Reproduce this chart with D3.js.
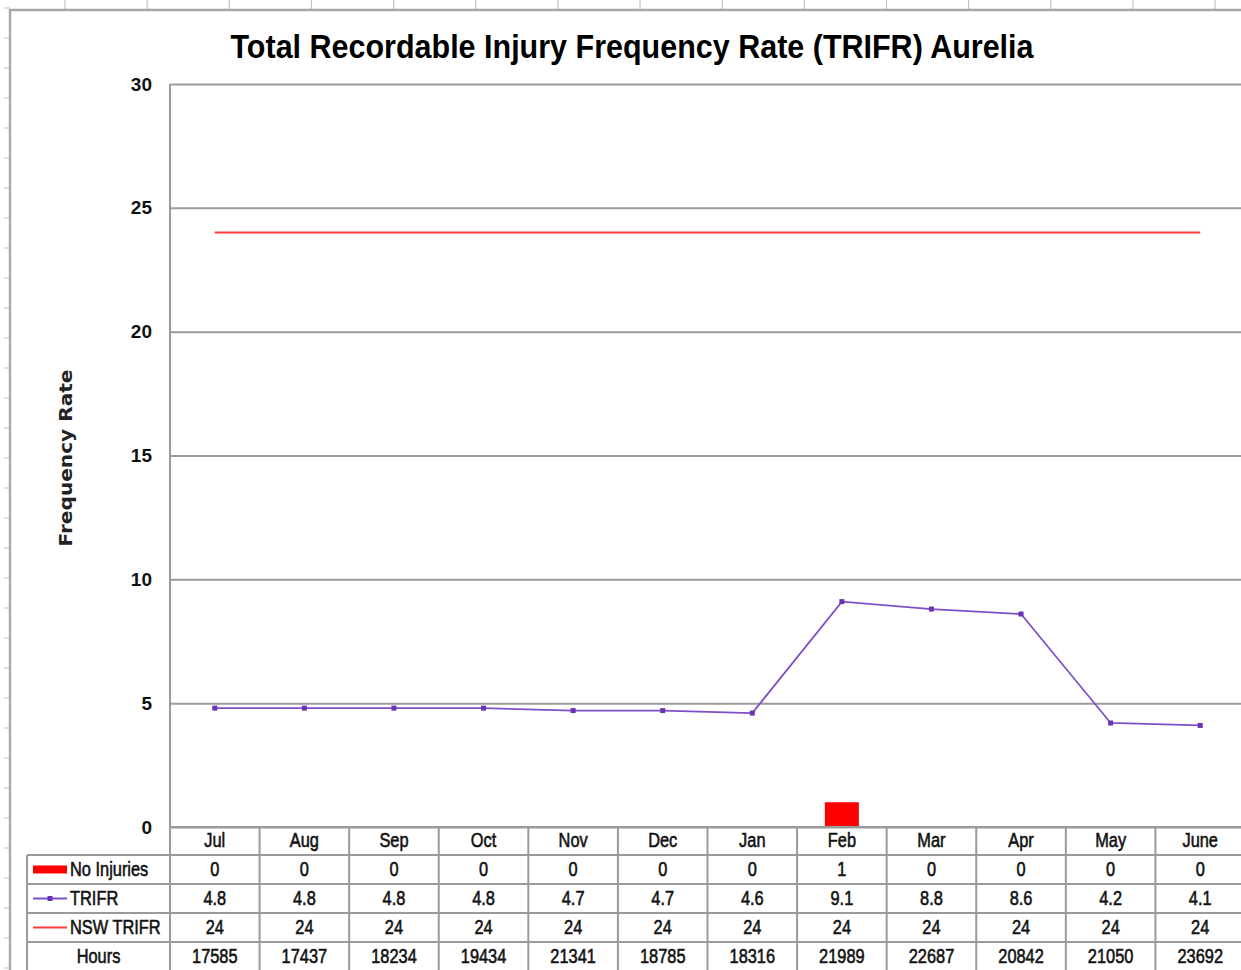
<!DOCTYPE html>
<html><head><meta charset="utf-8">
<script src="https://cdn.jsdelivr.net/npm/d3@7"></script>
<style>body{margin:0;background:#fff}svg{display:block}</style>
</head><body>
<svg id="c" width="1241" height="970"></svg>
<script>
// ---- data ----
const months = ["Jul","Aug","Sep","Oct","Nov","Dec","Jan","Feb","Mar","Apr","May","June"];
const noInjuries = [0,0,0,0,0,0,0,1,0,0,0,0];
const trifr = [4.8,4.8,4.8,4.8,4.7,4.7,4.6,9.1,8.8,8.6,4.2,4.1];
const nswTrifr = [24,24,24,24,24,24,24,24,24,24,24,24];
const hours = [17585,17437,18234,19434,21341,18785,18316,21989,22687,20842,21050,23692];
const yTicks = [0,5,10,15,20,25,30];
const rowLabels = ["No Injuries","TRIFR","NSW TRIFR","Hours"];
const titleText = "Total Recordable Injury Frequency Rate (TRIFR) Aurelia";
const yLabel = "Frequency Rate";

// ---- layout ----
const svg = d3.select("#c");
const W = 1241, H = 970;
const plotL = 170, plotR = 1245, plotT = 84, plotB = 827;
const tableL = 27, headerB = 855, tableB = 971;
const grid = "#9a9a9a";
const SQ = 0.78;

const x = d3.scaleBand().domain(months).range([plotL, plotR]);
const y = d3.scaleLinear().domain([0, 30]).range([plotB, plotT]);
const row = d3.scaleBand().domain(rowLabels).range([headerB, tableB]);
const cx = m => x(m) + x.bandwidth() / 2;

// ---- spreadsheet background ----
const bg = svg.append("g");
d3.range(65, W, 82.15).forEach(px => {
  bg.append("line").attr("x1", px).attr("x2", px).attr("y1", 0).attr("y2", 9)
    .attr("stroke", "#c4c4c4").attr("stroke-width", 1.2);
});
d3.range(8, H, 30).forEach(py => {
  bg.append("line").attr("x1", 4).attr("x2", 10).attr("y1", py).attr("y2", py)
    .attr("stroke", "#c8c8c8").attr("stroke-width", 1.2);
});
// chart border
bg.append("path").attr("d", `M10,${H}V10H${W}`).attr("fill", "none")
  .attr("stroke", "#a8a8a8").attr("stroke-width", 2.4);

// ---- title ----
svg.append("text").attr("x", 632).attr("y", 58).attr("text-anchor", "middle")
  .attr("font-family", "Liberation Sans, Arial, sans-serif").attr("font-weight", "bold")
  .attr("font-size", 34).attr("textLength", 803).attr("lengthAdjust", "spacingAndGlyphs")
  .attr("fill", "#000").text(titleText);

// ---- y axis label ----
svg.append("text").attr("transform", "translate(72,458) rotate(-90)")
  .attr("text-anchor", "middle").attr("font-family", "DejaVu Sans, Verdana, sans-serif")
  .attr("font-weight", "bold").attr("font-size", 18).attr("textLength", 177)
  .attr("lengthAdjust", "spacingAndGlyphs").attr("fill", "#222").text(yLabel);

// ---- gridlines + y ticks ----
const yAxis = d3.axisLeft(y).tickValues(yTicks).tickSize(-(plotR - plotL)).tickPadding(18);
const ga = svg.append("g").attr("transform", `translate(${plotL},0)`).call(yAxis);
ga.select(".domain").remove();
ga.selectAll(".tick line").attr("stroke", grid).attr("stroke-width", 2);
ga.selectAll(".tick text").attr("font-family", "Liberation Sans, Arial, sans-serif")
  .attr("font-weight", "bold").attr("font-size", 19).attr("fill", "#111");

// plot left border (continues through table)
svg.append("line").attr("x1", plotL).attr("x2", plotL).attr("y1", plotT).attr("y2", H)
  .attr("stroke", grid).attr("stroke-width", 2);

// ---- No Injuries bars ----
const barW = x.bandwidth() * 0.38;
svg.append("g").selectAll("rect").data(months).join("rect")
  .attr("x", m => cx(m) - barW / 2)
  .attr("y", (m, i) => y(noInjuries[i]))
  .attr("width", barW)
  .attr("height", (m, i) => y(0) - y(noInjuries[i]))
  .attr("fill", "#ff0000");

// ---- NSW TRIFR line ----
const line = d3.line().x(d => cx(d.m)).y(d => y(d.v));
svg.append("path").datum(months.map((m, i) => ({m, v: nswTrifr[i]})))
  .attr("d", line).attr("fill", "none").attr("stroke", "#ff3a3a").attr("stroke-width", 2);

// ---- TRIFR line ----
const tData = months.map((m, i) => ({m, v: trifr[i]}));
svg.append("path").datum(tData).attr("d", line).attr("fill", "none")
  .attr("stroke", "#7e4fc6").attr("stroke-width", 1.8);
svg.append("g").selectAll("rect").data(tData).join("rect")
  .attr("x", d => cx(d.m) - 2.5).attr("y", d => y(d.v) - 2.5)
  .attr("width", 5).attr("height", 5).attr("fill", "#6a33b3");

// ---- data table ----
const tg = svg.append("g");
tg.append("line").attr("x1", plotL).attr("x2", W).attr("y1", plotB).attr("y2", plotB)
  .attr("stroke", grid).attr("stroke-width", 2);
rowLabels.forEach(r => {
  tg.append("line").attr("x1", tableL).attr("x2", W).attr("y1", row(r)).attr("y2", row(r))
    .attr("stroke", grid).attr("stroke-width", 2);
});
tg.append("line").attr("x1", tableL).attr("x2", tableL).attr("y1", headerB).attr("y2", H)
  .attr("stroke", grid).attr("stroke-width", 2);
months.slice(1).forEach(m => {
  tg.append("line").attr("x1", x(m)).attr("x2", x(m)).attr("y1", plotB).attr("y2", H)
    .attr("stroke", grid).attr("stroke-width", 2);
});

function sqText(px, py, txt, anchor) {
  const g = tg.append("g").attr("transform", `translate(${px},${py}) scale(${SQ},1)`);
  g.append("text").attr("text-anchor", anchor || "middle").attr("dy", "0.3em")
    .attr("font-family", "Liberation Sans, Arial, sans-serif").attr("font-size", 21)
    .attr("fill", "#111").attr("stroke", "#111").attr("stroke-width", 0.6).text(txt);
}
months.forEach(m => sqText(cx(m), (plotB + headerB) / 2, m));
const rowVals = {"No Injuries": noInjuries, "TRIFR": trifr, "NSW TRIFR": nswTrifr, "Hours": hours};
rowLabels.forEach(r => {
  const ry = row(r) + row.bandwidth() / 2;
  rowVals[r].forEach((v, i) => sqText(cx(months[i]), ry, String(v)));
});
const lk = 33, lk2 = 67, lt = 70;
const r0 = row("No Injuries") + row.bandwidth() / 2;
tg.append("rect").attr("x", lk).attr("y", r0 - 4).attr("width", lk2 - lk).attr("height", 8).attr("fill", "#ff0000");
sqText(lt, r0, "No Injuries", "start");
const r1 = row("TRIFR") + row.bandwidth() / 2;
tg.append("line").attr("x1", lk).attr("x2", lk2).attr("y1", r1).attr("y2", r1)
  .attr("stroke", "#7e4fc6").attr("stroke-width", 1.8);
tg.append("rect").attr("x", (lk + lk2) / 2 - 2.5).attr("y", r1 - 2.5).attr("width", 5).attr("height", 5).attr("fill", "#6a33b3");
sqText(lt, r1, "TRIFR", "start");
const r2 = row("NSW TRIFR") + row.bandwidth() / 2;
tg.append("line").attr("x1", lk).attr("x2", lk2).attr("y1", r2).attr("y2", r2)
  .attr("stroke", "#ff3a3a").attr("stroke-width", 2);
sqText(lt, r2, "NSW TRIFR", "start");
const r3 = row("Hours") + row.bandwidth() / 2;
sqText((tableL + plotL) / 2, r3, "Hours");
</script>
</body></html>
